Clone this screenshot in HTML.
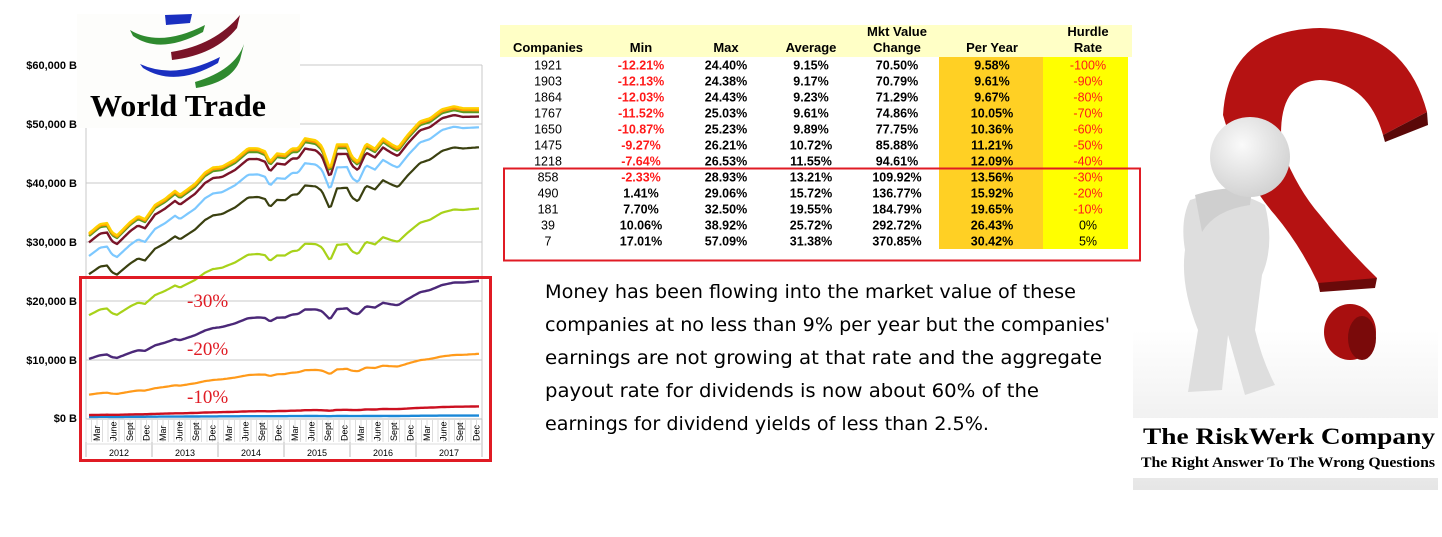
<!DOCTYPE html>
<html><head><meta charset="utf-8"><style>
html,body{margin:0;padding:0;background:#fff;}
svg{display:block;}
.t{font-family:"Liberation Sans",Arial,sans-serif;font-size:12.5px;fill:#000;}
.b{font-weight:bold;}
.r{fill:#ff1a1a;}
.h{font-family:"Liberation Sans",Arial,sans-serif;font-size:13px;font-weight:bold;fill:#000;}
.ax{font-family:"Liberation Sans",Arial,sans-serif;font-size:11px;font-weight:bold;fill:#000;}
.mo{font-family:"Liberation Sans",Arial,sans-serif;font-size:9px;fill:#000;}
.p{font-family:"Comic Sans MS","DejaVu Sans",sans-serif;font-size:19px;fill:#000;}
</style></head><body>
<svg id="s" width="1442" height="537" xmlns="http://www.w3.org/2000/svg">
<rect width="1442" height="537" fill="#fff"/>
<g stroke="#c8c8c8" stroke-width="1">
<line x1="86" y1="65" x2="482" y2="65"/><line x1="86" y1="124" x2="482" y2="124"/>
<line x1="86" y1="183" x2="482" y2="183"/><line x1="86" y1="242" x2="482" y2="242"/>
<line x1="86" y1="301" x2="482" y2="301"/><line x1="86" y1="360" x2="482" y2="360"/>
<line x1="86" y1="65" x2="86" y2="455"/><line x1="482" y1="65" x2="482" y2="455"/>
</g>
<g class="ax" text-anchor="end">
<text x="77" y="69">$60,000 B</text><text x="77" y="128">$50,000 B</text>
<text x="77" y="187">$40,000 B</text><text x="77" y="246">$30,000 B</text>
<text x="77" y="305">$20,000 B</text><text x="77" y="364">$10,000 B</text>
<text x="77" y="422">$0 B</text>
</g>
<g id="series"></g>
<g id="xaxis"></g>
<rect x="77" y="14" width="223" height="114" fill="#fdfdfb"/>
<path d="M165 15 L192 14 L190 23 L166 25Z" fill="#1a2fc0"/>
<path d="M130 30 Q160 48 205 25 L203 32 Q160 55 133 36Z" fill="#2f8a2f"/>
<path d="M171 52 Q215 45 240 15 L237 28 Q215 55 172 60Z" fill="#7a1428"/>
<path d="M140 64 Q175 80 220 57 L218 63 Q175 88 143 68Z" fill="#1a2fc0"/>
<path d="M195 82 Q235 70 244 44 L240 60 Q232 82 196 88Z" fill="#2f8a2f"/>
<text x="90" y="116" style="font-family:'Liberation Serif',serif;font-size:31px;font-weight:bold" fill="#000" textLength="176" lengthAdjust="spacingAndGlyphs">World Trade</text>
<rect x="80.5" y="277.5" width="410" height="183" fill="none" stroke="#e01b24" stroke-width="3"/>
<g style="font-family:'Liberation Serif',serif;font-size:19px" fill="#e01b24">
<text x="187" y="307">-30%</text><text x="187" y="355">-20%</text><text x="187" y="403">-10%</text>
</g>
<rect x="500" y="25" width="632" height="32" fill="#ffffc6"/>
<rect x="939" y="57" width="104" height="192" fill="#ffd024"/>
<rect x="1043" y="57" width="85" height="192" fill="#ffff00"/>
<g class="h" text-anchor="middle">
<text x="548" y="52">Companies</text><text x="641" y="52">Min</text><text x="726" y="52">Max</text>
<text x="811" y="52">Average</text><text x="897" y="36">Mkt Value</text><text x="897" y="52">Change</text>
<text x="992" y="52">Per Year</text><text x="1088" y="36">Hurdle</text><text x="1088" y="52">Rate</text>
</g>
<g id="tbl" class="t" text-anchor="middle"></g>
<rect x="504" y="168.5" width="636" height="92" fill="none" stroke="#e01b24" stroke-width="2"/>
<g class="p">
<text x="545" y="298" textLength="531" lengthAdjust="spacingAndGlyphs">Money has been flowing into the market value of these</text>
<text x="545" y="331" textLength="565" lengthAdjust="spacingAndGlyphs">companies at no less than 9% per year but the companies'</text>
<text x="545" y="364" textLength="557" lengthAdjust="spacingAndGlyphs">earnings are not growing at that rate and the aggregate</text>
<text x="545" y="397" textLength="494" lengthAdjust="spacingAndGlyphs">payout rate for dividends is now about 60% of the</text>
<text x="545" y="430" textLength="444" lengthAdjust="spacingAndGlyphs">earnings for dividend yields of less than 2.5%.</text>
</g>
<defs>
<radialGradient id="gh" cx="0.4" cy="0.35" r="0.7"><stop offset="0" stop-color="#fafafa"/><stop offset="1" stop-color="#d0d0d0"/></radialGradient>
<linearGradient id="gf" x1="0" y1="0" x2="0" y2="1"><stop offset="0" stop-color="#fff"/><stop offset="1" stop-color="#e6e6e6"/></linearGradient>
</defs>
<rect x="1133" y="330" width="305" height="160" fill="url(#gf)"/>
<path d="M1223 115 Q1228 30 1320 28 Q1405 30 1427 112 L1383 135 Q1368 82 1320 80 Q1275 82 1282 150 Q1298 190 1320 215 Q1348 250 1377 278 L1360 286 L1318 283 Q1300 245 1275 215 Q1240 175 1223 115Z" fill="#b51212"/>
<path d="M1383 135 L1427 112 L1428 125 L1385 142Z" fill="#5a0808"/>
<path d="M1318 283 L1377 278 L1375 288 L1320 292Z" fill="#6a0a0a"/>
<ellipse cx="1350" cy="332" rx="26" ry="28" fill="#a80f0f"/>
<ellipse cx="1362" cy="338" rx="14" ry="22" fill="#7a0a0a"/>
<path d="M1190 200 Q1230 185 1265 205 Q1275 245 1262 275 L1255 330 Q1262 360 1275 385 L1245 395 L1228 335 L1222 390 L1188 392 L1198 330 Q1180 285 1185 250 Q1180 220 1190 200Z" fill="#dedede"/>
<path d="M1195 195 Q1225 185 1252 190 L1250 205 Q1215 210 1202 232 Z" fill="#cfcfcf"/>
<circle cx="1250" cy="157" r="40" fill="url(#gh)"/>
<rect x="1133" y="418" width="305" height="60" fill="#fff"/>
<text x="1143" y="444" style="font-family:'Liberation Serif',serif;font-size:23px;font-weight:bold" fill="#000" textLength="292" lengthAdjust="spacingAndGlyphs">The RiskWerk Company</text>
<text x="1141" y="467" style="font-family:'Liberation Serif',serif;font-size:14.5px;font-weight:bold" fill="#000" textLength="294" lengthAdjust="spacingAndGlyphs">The Right Answer To The Wrong Questions</text>
</svg>
<script>
var NS="http://www.w3.org/2000/svg";
function el(p,n,a,t){var e=document.createElementNS(NS,n);for(var k in a)e.setAttribute(k,a[k]);if(t!=null)e.textContent=t;p.appendChild(e);return e;}
var kp=[[89,236],[100,227],[107,226],[112,235],[117,238],[130,225],[138,219],[145,222],[155,208],[165,202],[175,194],[180,198],[195,187],[205,176],[213,171],[222,170],[235,163],[248,152],[258,152],[265,155],[270,165],[277,157],[285,158],[292,152],[298,152],[305,142],[316,144],[322,150],[330,172],[337,148],[347,148],[352,160],[358,165],[366,147],[375,152],[383,142],[392,148],[398,151],[408,138],[420,125],[430,122],[442,113],[454,110],[463,112],[480,112]];
function base(x){for(var i=1;i<kp.length;i++){if(x<=kp[i][0]){var a=kp[i-1],b=kp[i];return a[1]+(b[1]-a[1])*(x-a[0])/(b[0]-a[0]);}}return 112;}
var ser=[["#ffd000",1.015,1.012,2.4],["#ff9a00",1.008,1.006,2.4],["#5a9a20",1,1,2.4],["#7a1428",0.965,0.985,2.4],["#7cc8ff",0.89,0.95,2.2],["#3a4010",0.79,0.885,2.2],["#a8d21a",0.565,0.685,2.2],["#4b2878",0.325,0.448,2.4],["#ff9a1a",0.128,0.21,2.2],["#cc1020",0.016,0.038,2.4],["#1a88d8",0.006,0.008,2.4]];
var g=document.getElementById("series");
for(var s=ser.length-1;s>=0;s--){var S=ser[s],pts=[];for(var x=89;x<=480;x+=2){var t=(x-89)/391,f=S[1]+(S[2]-S[1])*t;var v=(418-base(x))*f;var y=418-v;pts.push(x+","+y.toFixed(1));}
el(g,"polyline",{points:pts.join(" "),fill:"none",stroke:S[0],"stroke-width":S[3],"stroke-linejoin":"round"});}
var xa=document.getElementById("xaxis");
el(xa,"line",{x1:86,y1:419,x2:482,y2:419,stroke:"#bbb"});
var mn=["Mar","June","Sept","Dec"];
for(var yr=0;yr<6;yr++){var x0=86+yr*66;el(xa,"line",{x1:x0,y1:419,x2:x0,y2:457,stroke:"#bbb"});
for(var q=0;q<12;q++){el(xa,"line",{x1:x0+q*5.5,y1:419,x2:x0+q*5.5,y2:442,stroke:"#ddd"});}
for(var k=0;k<4;k++){var xx=x0+14+k*16.5;el(xa,"text",{"class":"mo",transform:"translate("+xx+",441) rotate(-90)"},mn[k]);}
el(xa,"text",{"class":"mo",x:x0+33,y:456,"text-anchor":"middle"},String(2012+yr));}
el(xa,"line",{x1:482,y1:419,x2:482,y2:457,stroke:"#bbb"});
el(xa,"line",{x1:86,y1:444,x2:482,y2:444,stroke:"#ddd"});
var rows=[["1921","-12.21%","24.40%","9.15%","70.50%","9.58%","-100%"],["1903","-12.13%","24.38%","9.17%","70.79%","9.61%","-90%"],["1864","-12.03%","24.43%","9.23%","71.29%","9.67%","-80%"],["1767","-11.52%","25.03%","9.61%","74.86%","10.05%","-70%"],["1650","-10.87%","25.23%","9.89%","77.75%","10.36%","-60%"],["1475","-9.27%","26.21%","10.72%","85.88%","11.21%","-50%"],["1218","-7.64%","26.53%","11.55%","94.61%","12.09%","-40%"],["858","-2.33%","28.93%","13.21%","109.92%","13.56%","-30%"],["490","1.41%","29.06%","15.72%","136.77%","15.92%","-20%"],["181","7.70%","32.50%","19.55%","184.79%","19.65%","-10%"],["39","10.06%","38.92%","25.72%","292.72%","26.43%","0%"],["7","17.01%","57.09%","31.38%","370.85%","30.42%","5%"]];
var cx=[548,641,726,811,897,992,1088],tb=document.getElementById("tbl");
rows.forEach(function(r,i){var y=69.5+i*16;r.forEach(function(v,j){var c=(j==0||j==6)?"":"b";if(v.charAt(0)=="-")c+=" r";el(tb,"text",{x:cx[j],y:y,"class":c},v);});});
</script>
</body></html>
